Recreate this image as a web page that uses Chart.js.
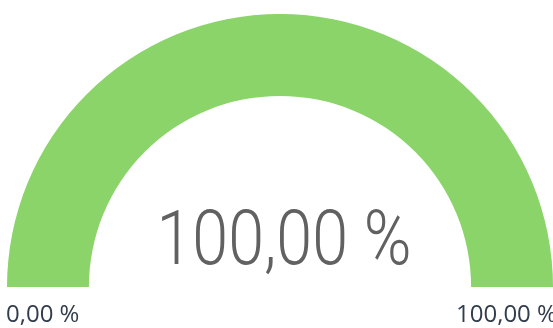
<!DOCTYPE html>
<html>
<head>
<meta charset="utf-8">
<script src="https://cdn.jsdelivr.net/npm/chart.js@4/dist/chart.umd.min.js"></script>
<style>
  html, body { margin: 0; padding: 0; background: #fff; }
  #wrap { position: relative; width: 553px; height: 328px; overflow: hidden; }
  #gauge { position: absolute; left: 0; top: 0; }
  .lbl { position: absolute; white-space: nowrap; font-family: "Open Sans", sans-serif; }
  #minLbl, #maxLbl { font-size: 24px; color: #313d4d; top: 296px; }
  #minLbl { left: 6px; }
  #maxLbl { left: 456px; }
  #valLbl { font-family: Roboto, sans-serif; font-weight: 300; font-size: 76px; color: #616161;
            left: 284px; top: 193px; transform: translateX(-50%) scaleX(0.85); }
</style>
</head>
<body>
<div id="wrap">
  <canvas id="gauge" width="553" height="328"></canvas>
  <div class="lbl" id="minLbl"></div>
  <div class="lbl" id="maxLbl"></div>
  <div class="lbl" id="valLbl"></div>
</div>
<script>
// gauge range and current value
const gaugeMin = [0]
const gaugeMax = [100]
const gaugeValue = [100]

const fillColor = '#8ad46a'
const emptyColor = '#e6e6e6'

function fmt(v) {
  return v.toFixed(2).replace('.', ',') + ' %'
}

document.getElementById('minLbl').textContent = fmt(gaugeMin[0])
document.getElementById('maxLbl').textContent = fmt(gaugeMax[0])
document.getElementById('valLbl').textContent = fmt(gaugeValue[0])

const filled = gaugeValue[0] - gaugeMin[0]
const rest = gaugeMax[0] - gaugeValue[0]

const ctx = document.getElementById('gauge').getContext('2d')
const gauge = new Chart(ctx, {
  type: 'doughnut',
  data: {
    labels: ['valeur', 'reste'],
    datasets: [{
      data: [filled, rest],
      backgroundColor: [fillColor, emptyColor],
      borderWidth: 0
    }]
  },
  options: {
    responsive: false,
    animation: false,
    rotation: -90,
    circumference: 180,
    cutout: '70%',
    layout: {
      padding: { left: 7, right: 0, top: 14, bottom: 41 }
    },
    plugins: {
      legend: { display: false },
      tooltip: { enabled: false }
    }
  }
})
</script>
</body>
</html>
